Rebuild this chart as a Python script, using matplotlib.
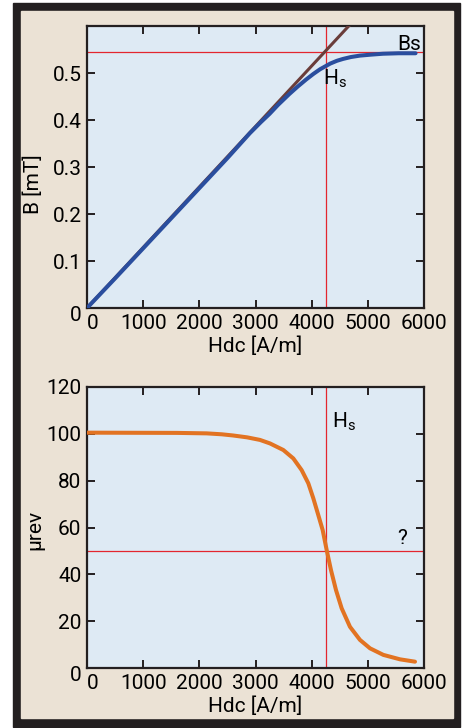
# B-H curve and reversible permeability vs DC field

import matplotlib
matplotlib.use('Agg')
import matplotlib.pyplot as plt
from matplotlib.patches import Rectangle
from matplotlib.transforms import ScaledTranslation

# data
h_knee = 4250          # Hs [A/m]
b_sat = 0.545          # Bs [mT]
mu_mark = 50

h_bh = [0, 500, 1000, 1500, 2000, 2500, 2900, 3100, 3250, 3400, 3600, 3750,
        3900, 4030, 4150, 4330, 4450, 4560, 4700, 4860, 5050, 5270, 5550, 5850]
b_bh = [0, 0.063, 0.127, 0.191, 0.255, 0.319, 0.372, 0.396, 0.413, 0.432,
        0.455, 0.471, 0.486, 0.498, 0.508, 0.520, 0.526, 0.530, 0.534, 0.537,
        0.539, 0.541, 0.542, 0.542]

h_tan = [0, 4660]
b_tan = [0, 0.6]

h_mu = [0, 1600, 2130, 2400, 2600, 2850, 3080, 3258, 3495, 3673, 3822, 3940,
        4029, 4118, 4196, 4267, 4344, 4433, 4534, 4682, 4860, 5039, 5276,
        5573, 5840]
mu_rev = [100.5, 100.4, 100.2, 99.8, 99.3, 98.5, 97.4, 95.9, 93.1, 89.5,
          84.5, 78.9, 72.5, 65.3, 58.9, 50.4, 41.8, 33.3, 25.5, 17.6, 12.0,
          8.4, 5.6, 3.7, 2.7]

x_ticks = [0, 1000, 2000, 3000, 4000, 5000, 6000]
b_ticks = [0, 0.1, 0.2, 0.3, 0.4, 0.5]
mu_ticks = [0, 20, 40, 60, 80, 100, 120]

plt.rcParams['font.family'] = ['Roboto', 'DejaVu Sans']
plt.rcParams['font.size'] = 15
plt.rcParams['mathtext.fontset'] = 'custom'
plt.rcParams['mathtext.rm'] = 'Roboto'

dark = '#231f20'
red = '#e3262e'

fig = plt.figure(figsize=(4.66, 7.28), dpi=100, facecolor='white')
fig.patches.append(Rectangle((13 / 466, 1 - 727 / 728), 447 / 466, 724 / 728,
                             transform=fig.transFigure, color=dark, zorder=-2))
fig.patches.append(Rectangle((21 / 466, 1 - 718 / 728), 432 / 466, 707 / 728,
                             transform=fig.transFigure, color='#ebe2d5', zorder=-1))

ax1 = fig.add_axes([87 / 466, 1 - 308 / 728, 337 / 466, 282 / 728])
ax2 = fig.add_axes([87 / 466, 1 - 668 / 728, 337 / 466, 281 / 728])


def style(ax):
    ax.set_facecolor('#deeaf4')
    for s in ax.spines.values():
        s.set_linewidth(1.6)
        s.set_color(dark)
    ax.tick_params(direction='in', length=6, width=1.4, color=dark,
                   top=True, right=True, pad=4)
    ax.set_xlim(0, 6000)
    ax.set_xticks(x_ticks)
    ax.set_xlabel('Hdc [A/m]', labelpad=3)
    ax.get_xticklabels()[0].set_ha('left')


# top: B vs H
style(ax1)
ax1.set_ylim(0, 0.6)
ax1.set_yticks(b_ticks)
ax1.set_yticklabels(['0', '0.1', '0.2', '0.3', '0.4', '0.5'])
ax1.axhline(b_sat, color=red, lw=0.9, zorder=2)
ax1.axvline(h_knee, color=red, lw=0.9, zorder=2)
ax1.plot(h_tan, b_tan, color='#6a3d3a', lw=2.2, zorder=3)
ax1.plot(h_bh, b_bh, color='#2a4e9e', lw=2.9, zorder=4, solid_capstyle='round')
ax1.text(5520, 0.549, 'Bs', ha='left', va='baseline')
ax1.text(4210, 0.4767, r'H$_\mathrm{s}$', ha='left', va='baseline')
ax1.set_ylabel('B [mT]')
ax1.yaxis.set_label_coords(-0.131, 0.44)

# bottom: mu_rev vs H
style(ax2)
ax2.set_ylim(0, 120)
ax2.set_yticks(mu_ticks)
ax2.axhline(mu_mark, color=red, lw=0.9, zorder=2)
ax2.axvline(h_knee, color=red, lw=0.9, zorder=2)
ax2.plot(h_mu, mu_rev, color='#e27322', lw=2.9, zorder=4, solid_capstyle='round')
ax2.text(4357, 102.9, r'H$_\mathrm{s}$', ha='left', va='baseline')
ax2.text(5524, 52.9, '?', ha='left', va='baseline')
ax2.set_ylabel('μrev')
ax2.yaxis.set_label_coords(-0.125, 0.49)

# the zero on the y axis sits a little low in the original
for ax in (ax1, ax2):
    lab = ax.get_yticklabels()[0]
    lab.set_transform(lab.get_transform() + ScaledTranslation(0, -4 / 72, fig.dpi_scale_trans))

fig.savefig('out.png', dpi=100, facecolor='white')
